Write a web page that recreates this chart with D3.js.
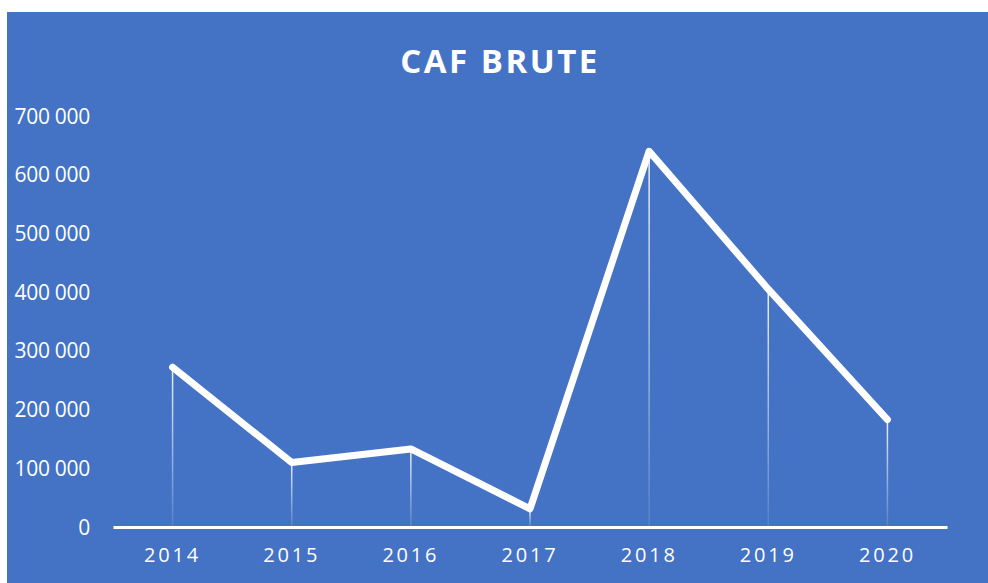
<!DOCTYPE html>
<html lang="fr">
<head>
<meta charset="utf-8">
<title>CAF brute</title>
<script src="https://d3js.org/d3.v7.min.js"></script>
<style>
  html, body { margin: 0; padding: 0; background: #fff; overflow: hidden; }
  svg { display: block; font-family: "Open Sans", "Noto Sans", sans-serif; }
</style>
</head>
<body>
<div id="chart"></div>
<script>
// Data
const years = ["2014", "2015", "2016", "2017", "2018", "2019", "2020"];
const cafBrute = [272000, 110000, 133000, 31000, 640000, 405000, 183000];
const yTicks = [0, 100000, 200000, 300000, 400000, 500000, 600000, 700000];

const width = 988;
const height = 583;
const margin = { top: 116, right: 41, bottom: 56, left: 113 };
const innerWidth = width - margin.left - margin.right;
const innerHeight = height - margin.top - margin.bottom;

const svg = d3.select("#chart")
  .append("svg")
  .attr("width", width)
  .attr("height", height);

// background
svg.append("rect")
  .attr("x", 7)
  .attr("y", 12)
  .attr("width", width - 7)
  .attr("height", height - 12)
  .attr("fill", "#4472c4");

const defs = svg.append("defs");
const grad = defs.append("linearGradient")
  .attr("id", "drop")
  .attr("x1", 0).attr("y1", 0)
  .attr("x2", 0).attr("y2", 1);
grad.append("stop").attr("offset", "0%").attr("stop-color", "#fff").attr("stop-opacity", 0.9);
grad.append("stop").attr("offset", "100%").attr("stop-color", "#fff").attr("stop-opacity", 0.1);

const bounds = svg.append("g")
  .attr("transform", `translate(${margin.left}, ${margin.top})`);

// scales
const x = d3.scaleBand()
  .domain(years)
  .range([0, innerWidth])
  .padding(0);

const y = d3.scaleLinear()
  .domain([0, 700000])
  .range([innerHeight, 0]);

const data = years.map((yr, i) => ({ year: yr, value: cafBrute[i] }));
const cx = d => x(d.year) + x.bandwidth() / 2;

// title
svg.append("text")
  .attr("x", 500)
  .attr("y", 73)
  .attr("text-anchor", "middle")
  .attr("fill", "#fff")
  .attr("font-size", "33px")
  .attr("font-weight", "bold")
  .attr("letter-spacing", "2.5px")
  .text("CAF BRUTE");

// y labels
const fmt = v => d3.format(",")(v).replace(/,/g, " ");
svg.append("g")
  .selectAll("text")
  .data(yTicks)
  .join("text")
  .attr("x", 90)
  .attr("y", d => margin.top + y(d))
  .attr("dy", "0.36em")
  .attr("text-anchor", "end")
  .attr("fill", "#fff")
  .attr("font-size", "21px")
  .attr("letter-spacing", "-0.3px")
  .text(fmt);

// drop lines
bounds.selectAll(".drop")
  .data(data)
  .join("rect")
  .attr("class", "drop")
  .attr("x", d => cx(d) - 0.75)
  .attr("y", d => y(d.value))
  .attr("width", 1.5)
  .attr("height", d => innerHeight - y(d.value))
  .attr("fill", "url(#drop)");

// x axis baseline
const xAxis = d3.axisBottom(x).tickSize(0).tickPadding(21);
bounds.append("g")
  .attr("transform", `translate(0, ${innerHeight})`)
  .call(xAxis)
  .call(g => g.select(".domain").attr("stroke", "#fff").attr("stroke-width", 3))
  .call(g => g.selectAll("text")
    .attr("fill", "#fff")
    .attr("font-size", "20px")
    .attr("font-family", "\"Open Sans\", sans-serif")
    .attr("letter-spacing", "2.8px"));

// line
const line = d3.line()
  .x(cx)
  .y(d => y(d.value));

bounds.append("path")
  .datum(data)
  .attr("d", line)
  .attr("fill", "none")
  .attr("stroke", "#fff")
  .attr("stroke-width", 7)
  .attr("stroke-linejoin", "round")
  .attr("stroke-linecap", "round");
</script>
</body>
</html>
